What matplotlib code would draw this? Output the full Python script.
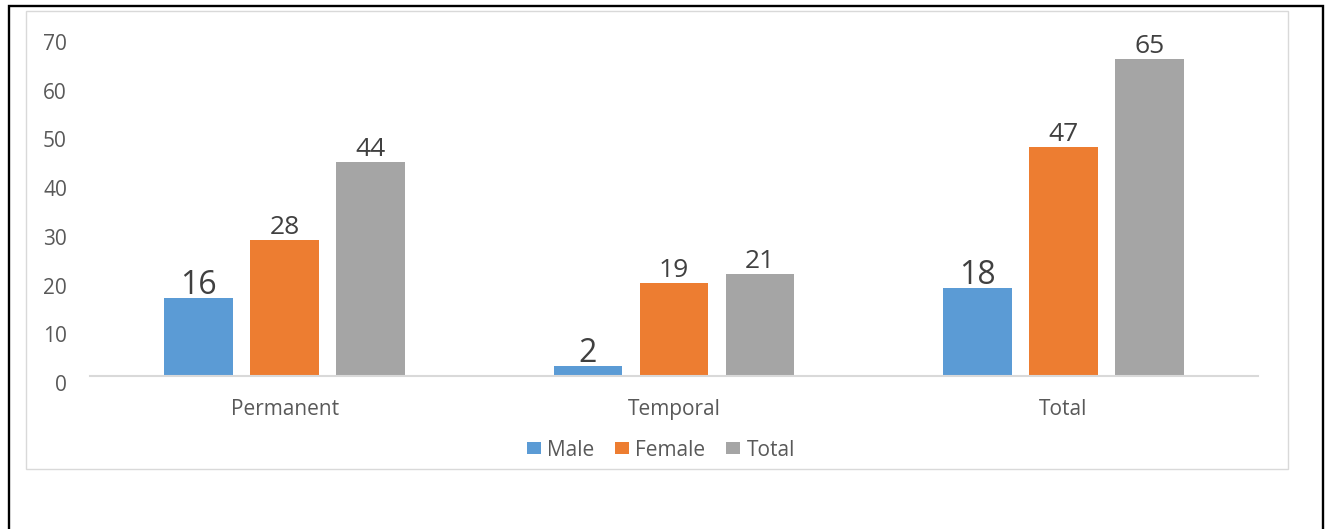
import numpy as np
import matplotlib
matplotlib.use("Agg")
import matplotlib.pyplot as plt
from matplotlib.patches import Rectangle, Patch
from matplotlib.transforms import ScaledTranslation

# Chart data
categories = ["Permanent", "Temporal", "Total"]
series_names = ["Male", "Female", "Total"]
male = [16, 2, 18]
female = [28, 19, 47]
total = [44, 21, 65]
y_ticks = [0, 10, 20, 30, 40, 50, 60, 70]

colors = ["#5B9BD5", "#ED7D31", "#A5A5A5"]
label_sizes = [23, 19, 19]  # Male labels are drawn larger in the original

plt.rcParams["font.family"] = ["Open Sans", "DejaVu Sans"]

W, H, DPI = 1325, 529, 100
fig = plt.figure(figsize=(W / DPI, H / DPI), dpi=DPI)
fig.patch.set_facecolor("white")

# axes placed in pixel terms
ax_left, ax_right, ax_bottom, ax_top = 90, 1258, 376, 35
ax = fig.add_axes([ax_left / W, 1 - ax_bottom / H,
                   (ax_right - ax_left) / W, (ax_bottom - ax_top) / H])

x = np.arange(len(categories))
width = 0.177
step = 0.221
series = [male, female, total]

for i, (vals, name) in enumerate(zip(series, series_names)):
    pos = x + (i - 1) * step
    bars = ax.bar(pos, vals, width=width, color=colors[i], label=name, zorder=2)
    gap_pt = 2.9 if i == 0 else 4.3
    for b, v in zip(bars, vals):
        ax.annotate(str(v), (b.get_x() + b.get_width() / 2, v),
                    xytext=(0, gap_pt), textcoords="offset points",
                    ha="center", va="baseline", fontsize=label_sizes[i],
                    color="#404040")

ax.set_xlim(-0.5, 2.5)
ax.set_ylim(0, 70)
ax.set_yticks(y_ticks)
ax.set_yticklabels([str(t) for t in y_ticks])
ax.set_xticks(x)
ax.set_xticklabels(categories)

for s in ["top", "right", "left"]:
    ax.spines[s].set_visible(False)
ax.spines["bottom"].set_color("#D9D9D9")
ax.spines["bottom"].set_linewidth(1.5)

ax.tick_params(axis="both", length=0, pad=0, labelsize=15, labelcolor="#595959")

# digit tops sit on the tick value, like the original
for lbl in ax.get_yticklabels():
    lbl.set_va("baseline")
    lbl.set_ha("right")
    lbl.set_transform(lbl.get_transform()
                      + ScaledTranslation(-0.23, -0.15, fig.dpi_scale_trans))
for lbl in ax.get_xticklabels():
    lbl.set_va("baseline")
    lbl.set_transform(lbl.get_transform()
                      + ScaledTranslation(0, -0.39, fig.dpi_scale_trans))

# legend under the categories
handles = [Patch(facecolor=c, edgecolor="none") for c in colors]
fig.legend(handles, series_names, loc="center",
           bbox_to_anchor=(661 / W, 1 - 450 / H), ncol=3, frameon=False,
           fontsize=15, labelcolor="#595959", handlelength=0.67,
           handleheight=0.48, handletextpad=0.3, columnspacing=1.0)

# inner chart frame and outer black border
fig.patches.append(Rectangle((26 / W, 1 - 469 / H), (1288 - 26) / W, (469 - 11) / H,
                             transform=fig.transFigure, fill=False,
                             edgecolor="#D9D9D9", linewidth=1.0))
fig.patches.append(Rectangle((8.8 / W, -0.1), (1323.3 - 8.8) / W, 1.1 - 6 / H,
                             transform=fig.transFigure, fill=False,
                             edgecolor="black", linewidth=1.7))

fig.savefig("out.png", dpi=DPI)
